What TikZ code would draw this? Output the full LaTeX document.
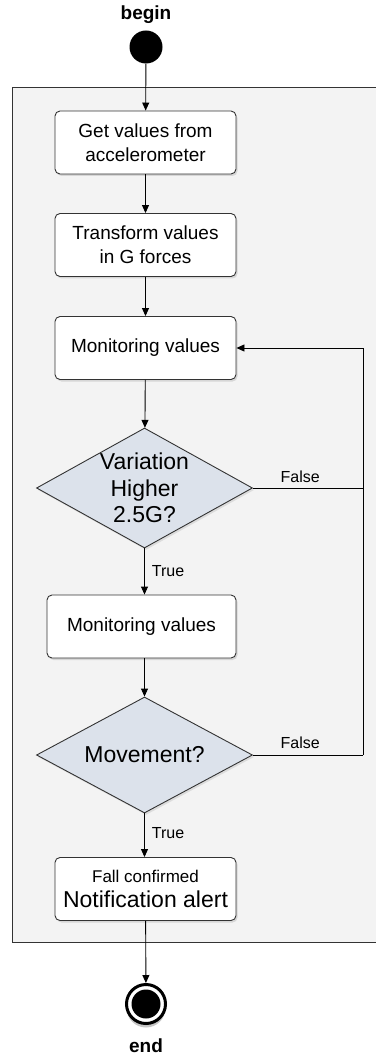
\documentclass[tikz,border=0pt]{standalone}
\usepackage{fontspec}
\setmainfont{Liberation Sans}
\usetikzlibrary{shapes.geometric,arrows.meta,shadows}
\definecolor{panel}{HTML}{F3F3F3}
\definecolor{decision}{HTML}{DCE2EB}
\definecolor{edge}{HTML}{333333}
\tikzset{
  flowarrow/.style={draw=black, line width=0.9pt, -{Triangle[length=8pt,width=7pt]}},
  flowline/.style={draw=black, line width=0.9pt},
  actbox/.style={draw=edge, line width=0.9pt, fill=white, rounded corners=5pt,
    minimum width=181pt, minimum height=63pt, inner sep=0pt, align=center,
    font=\fontsize{19}{24}\selectfont,
    drop shadow={shadow xshift=1.5pt, shadow yshift=-2pt, opacity=0.25}},
  decbox/.style={diamond, aspect=1.8, draw=edge, line width=0.9pt, fill=decision,
    minimum width=216pt, minimum height=120pt, inner sep=0pt, align=center,
    font=\fontsize{23}{26.5}\selectfont,
    drop shadow={shadow xshift=1.5pt, shadow yshift=-2pt, opacity=0.2}},
  guard/.style={font=\fontsize{16}{18}\selectfont, inner sep=0pt},
  caption/.style={font=\bfseries\fontsize{19}{21}\selectfont, inner sep=0pt}
}
\begin{document}
\begin{tikzpicture}[x=1pt, y=-1pt]
\useasboundingbox (0,0) rectangle (375,1056);
\fill[white] (0,0) rectangle (375,1056);

% enclosing activity region
\draw[draw=edge, line width=0.8pt, fill=panel] (12,87) rectangle (380,942);

% start and end
\node[caption] (beginlbl) at (146,15) {begin};
\node[circle, fill=black, minimum size=33pt, inner sep=0pt] (start) at (146,47) {};

\node[circle, draw=black, line width=3pt, fill=white, minimum size=39pt, inner sep=0pt,
  drop shadow={shadow xshift=0pt, shadow yshift=-4pt, opacity=0.45}] (stop) at (146,1004) {};
\node[circle, fill=black, minimum size=29pt, inner sep=0pt] (stopdot) at (stop.center) {};
\node[caption] (endlbl) at (146,1046) {end};

% actions
\node[actbox] (get) at (145.5,142.5) {Get values from\\accelerometer};
\node[actbox] (trans) at (145.5,245) {Transform values\\in G forces};
\node[actbox] (mon1) at (145.5,348) {Monitoring values};
\node[decbox] (var) at (144.5,488) {Variation\\Higher\\2.5G?};
\node[actbox, minimum width=189pt] (mon2) at (141.5,626.5) {Monitoring values};
\node[decbox, minimum height=116pt] (move) at (144.5,755) {Movement?};
\node[actbox, font=\fontsize{17}{25}\selectfont] (fall) at (145.5,889)
  {Fall confirmed\\{\fontsize{23}{25}\selectfont Notification alert}};

\coordinate (loopA) at (363,488);
\coordinate (loopB) at (363,755);
\coordinate (loopTop) at (363,348);

% main flow
\draw[flowarrow] (start) -- (get);
\draw[flowarrow] (get) -- (trans);
\draw[flowarrow] (trans) -- (mon1);
\draw[flowarrow] (mon1) -- (var);
\draw[flowarrow] (var.south) -- (var.south |- mon2.north)
  node[guard, pos=0.5, anchor=west, xshift=7pt] {True};
\draw[flowarrow] (mon2.south -| var.south) -- (move);
\draw[flowarrow] (move.south) -- (move.south |- fall.north)
  node[guard, pos=0.45, anchor=west, xshift=7pt] {True};
\draw[flowarrow] (fall) -- (stop);

% loops back on False
\draw[flowline] (var.east) -- (loopA) node[guard, pos=0.43, above=5pt] {False};
\draw[flowline] (move.east) -- (loopB) node[guard, pos=0.43, above=6pt] {False};
\draw[flowarrow] (loopB) -- (loopTop) -- (mon1.east);
\end{tikzpicture}
\end{document}
